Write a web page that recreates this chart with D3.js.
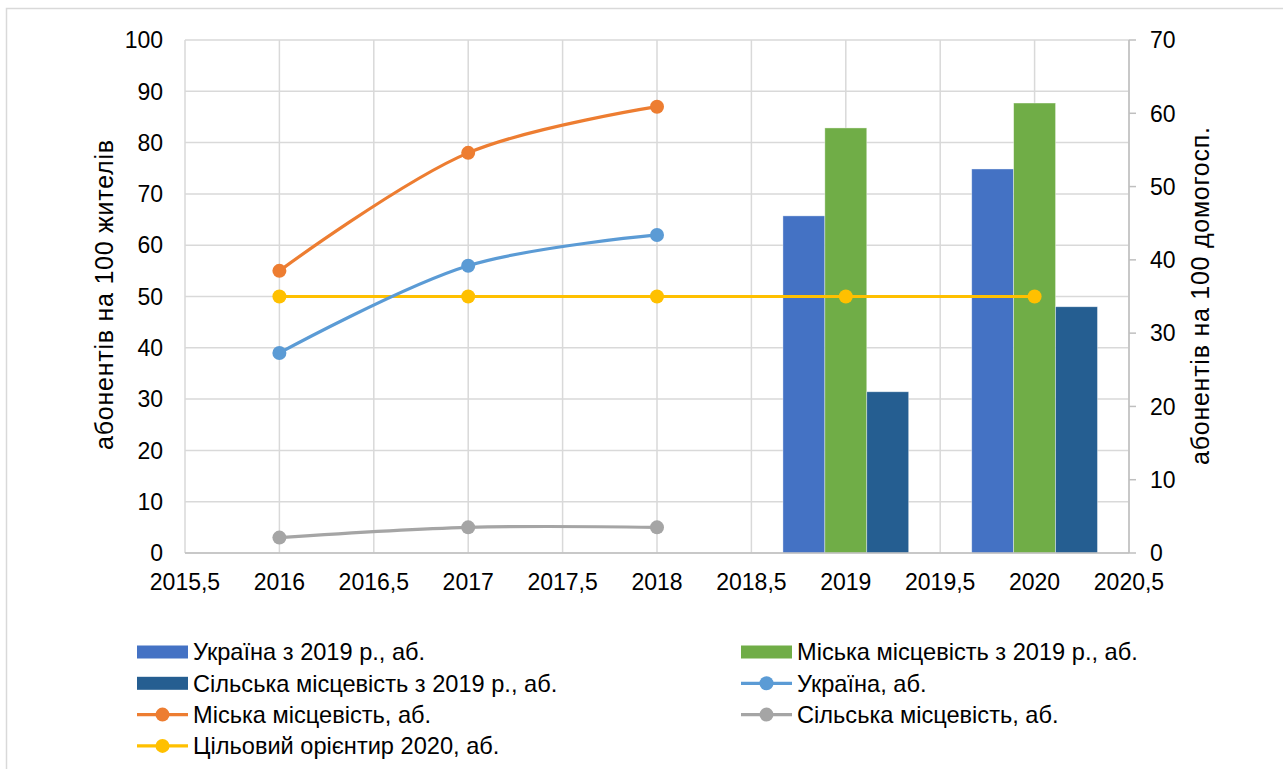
<!DOCTYPE html>
<html>
<head>
<meta charset="utf-8">
<script src="https://cdn.jsdelivr.net/npm/d3@7"></script>
<style>
  body { margin: 0; background: #fff; }
  svg { font-family: "Liberation Sans", Arial, sans-serif; }
</style>
</head>
<body>
<svg id="chart"></svg>
<script>
// line years and values (left axis, per 100 residents)
const lineYears = [2016, 2017, 2018];
const ukraine = [39, 56, 62];
const urban = [55, 78, 87];
const rural = [3, 5, 5];
const targetYears = [2016, 2017, 2018, 2019, 2020];
const target = [50, 50, 50, 50, 50];

// bar years and values (right axis, per 100 households)
const barYears = [2019, 2020];
const barUkraine = [46.0, 52.4];
const barUrban = [58.0, 61.4];
const barRural = [22.0, 33.6];

const xTicks = [2015.5, 2016, 2016.5, 2017, 2017.5, 2018, 2018.5, 2019, 2019.5, 2020, 2020.5];
const yLeftTicks = [0, 10, 20, 30, 40, 50, 60, 70, 80, 90, 100];
const yRightTicks = [0, 10, 20, 30, 40, 50, 60, 70];

const width = 1283, height = 769;
const margin = { left: 185, right: 1129, top: 40, bottom: 553 };

const svg = d3.select('#chart')
    .attr('width', width)
    .attr('height', height);

// outer chart border
svg.append('rect')
    .attr('x', 6.5).attr('y', 8.5)
    .attr('width', 1290).attr('height', 780)
    .attr('fill', 'none')
    .attr('stroke', '#d9d9d9')
    .attr('stroke-width', 1.5);

const x = d3.scaleLinear().domain([2015.5, 2020.5]).range([margin.left, margin.right]);
const yL = d3.scaleLinear().domain([0, 100]).range([margin.bottom, margin.top]);
const yR = d3.scaleLinear().domain([0, 70]).range([margin.bottom, margin.top]);

const grid = '#d9d9d9';

// gridlines
svg.append('g').selectAll('line.h').data(yLeftTicks).join('line')
    .attr('x1', margin.left).attr('x2', margin.right)
    .attr('y1', d => yL(d)).attr('y2', d => yL(d))
    .attr('stroke', grid).attr('stroke-width', 1.5);
svg.append('g').selectAll('line.v').data(xTicks).join('line')
    .attr('x1', d => x(d)).attr('x2', d => x(d))
    .attr('y1', margin.top).attr('y2', margin.bottom)
    .attr('stroke', grid).attr('stroke-width', 1.5);

// bars
const barW = (x(1) - x(0)) * 0.222;
const barSeries = [
    { vals: barUkraine, color: '#4472C4' },
    { vals: barUrban, color: '#70AD47' },
    { vals: barRural, color: '#255E91' }
];
barSeries.forEach((s, i) => {
    svg.append('g').selectAll('rect').data(barYears).join('rect')
        .attr('x', d => x(d) + (i - 1.5) * barW)
        .attr('width', barW)
        .attr('y', (d, j) => yR(s.vals[j]))
        .attr('height', (d, j) => yR(0) - yR(s.vals[j]))
        .attr('fill', s.color)
        .attr('stroke', '#ffffff')
        .attr('stroke-opacity', 0.5)
        .attr('stroke-width', 0.75);
});

// axes lines
svg.append('line')
    .attr('x1', margin.left).attr('x2', margin.right)
    .attr('y1', margin.bottom).attr('y2', margin.bottom)
    .attr('stroke', '#bfbfbf').attr('stroke-width', 1.5);
svg.append('line')
    .attr('x1', margin.right).attr('x2', margin.right)
    .attr('y1', margin.top).attr('y2', margin.bottom)
    .attr('stroke', '#bfbfbf').attr('stroke-width', 1.5);
svg.append('g').selectAll('line').data(yRightTicks).join('line')
    .attr('x1', margin.right).attr('x2', margin.right + 7)
    .attr('y1', d => yR(d)).attr('y2', d => yR(d))
    .attr('stroke', '#bfbfbf').attr('stroke-width', 1.5);

// lines
const smooth = d3.line().curve(d3.curveCatmullRom.alpha(0.5));
const lineSeries = [
    { years: targetYears, vals: target, color: '#FFC000' },
    { years: lineYears, vals: rural, color: '#A5A5A5' },
    { years: lineYears, vals: ukraine, color: '#5B9BD5' },
    { years: lineYears, vals: urban, color: '#ED7D31' }
];
lineSeries.forEach(s => {
    const pts = s.years.map((yr, i) => [x(yr), yL(s.vals[i])]);
    svg.append('path')
        .attr('d', smooth(pts))
        .attr('fill', 'none')
        .attr('stroke', s.color)
        .attr('stroke-width', 3.2)
        .attr('stroke-linecap', 'round');
    svg.append('g').selectAll('circle').data(pts).join('circle')
        .attr('cx', d => d[0]).attr('cy', d => d[1])
        .attr('r', 7)
        .attr('fill', s.color);
});

// tick labels
const fs = 23;
svg.append('g').selectAll('text').data(yLeftTicks).join('text')
    .attr('x', margin.left - 22)
    .attr('y', d => yL(d))
    .attr('dy', '0.36em')
    .attr('text-anchor', 'end')
    .attr('font-size', fs)
    .attr('fill', '#000')
    .text(d => d);
svg.append('g').selectAll('text').data(yRightTicks).join('text')
    .attr('x', margin.right + 21)
    .attr('y', d => yR(d))
    .attr('dy', '0.36em')
    .attr('text-anchor', 'start')
    .attr('font-size', fs)
    .attr('fill', '#000')
    .text(d => d);
svg.append('g').selectAll('text').data(xTicks).join('text')
    .attr('x', d => x(d))
    .attr('y', margin.bottom + 37)
    .attr('text-anchor', 'middle')
    .attr('font-size', fs)
    .attr('fill', '#000')
    .text(d => String(d).replace('.', ','));

// axis titles
svg.append('text')
    .attr('transform', 'translate(113,295) rotate(-90)')
    .attr('text-anchor', 'middle')
    .attr('font-size', 25)
    .attr('textLength', 310)
    .attr('lengthAdjust', 'spacing')
    .attr('fill', '#000')
    .text('абонентів на 100 жителів');
svg.append('text')
    .attr('transform', 'translate(1209,296) rotate(-90)')
    .attr('text-anchor', 'middle')
    .attr('font-size', 25)
    .attr('textLength', 338)
    .attr('lengthAdjust', 'spacing')
    .attr('fill', '#000')
    .text('абонентів на 100 домогосп.');

// legend
const legendItems = [
    { label: 'Україна з 2019 р., аб.', color: '#4472C4', type: 'bar' },
    { label: 'Міська місцевість з 2019 р., аб.', color: '#70AD47', type: 'bar' },
    { label: 'Сільська місцевість з 2019 р., аб.', color: '#255E91', type: 'bar' },
    { label: 'Україна, аб.', color: '#5B9BD5', type: 'line' },
    { label: 'Міська місцевість, аб.', color: '#ED7D31', type: 'line' },
    { label: 'Сільська місцевість, аб.', color: '#A5A5A5', type: 'line' },
    { label: 'Цільовий орієнтир 2020, аб.', color: '#FFC000', type: 'line' }
];
const colX = [137, 741];
const rowY0 = 652, rowH = 31.3;
legendItems.forEach((it, i) => {
    const cx = colX[i % 2];
    const cy = rowY0 + Math.floor(i / 2) * rowH;
    const g = svg.append('g');
    if (it.type === 'bar') {
        g.append('rect')
            .attr('x', cx).attr('y', cy - 6.5)
            .attr('width', 51).attr('height', 13)
            .attr('fill', it.color);
    } else {
        g.append('line')
            .attr('x1', cx).attr('x2', cx + 51)
            .attr('y1', cy).attr('y2', cy)
            .attr('stroke', it.color).attr('stroke-width', 3.2);
        g.append('circle')
            .attr('cx', cx + 25.5).attr('cy', cy).attr('r', 7)
            .attr('fill', it.color);
    }
    g.append('text')
        .attr('x', cx + 56)
        .attr('y', cy)
        .attr('dy', '0.36em')
        .attr('font-size', 23.6)
        .attr('fill', '#000')
        .text(it.label);
});
</script>
</body>
</html>
